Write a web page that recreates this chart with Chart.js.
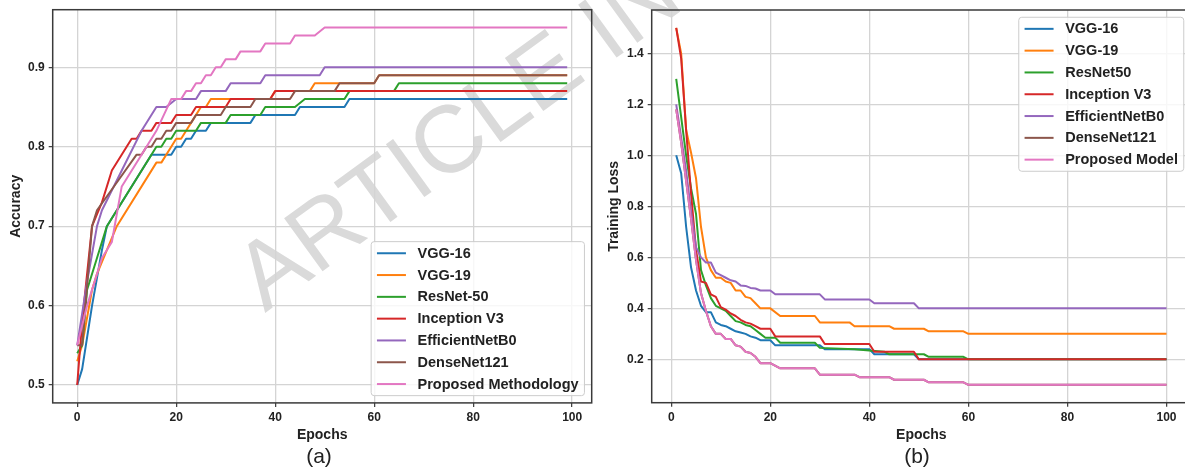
<!DOCTYPE html>
<html>
<head>
<meta charset="utf-8">
<title>Accuracy and training loss</title>
<script src="https://cdn.jsdelivr.net/npm/chart.js@4.4.1/dist/chart.umd.min.js"></script>
<style>
  html, body { margin: 0; padding: 0; background: #fff; overflow: hidden; }
  #wrap { position: relative; width: 1185px; height: 471px; overflow: hidden; }
  canvas { position: absolute; top: 0; z-index: 1; }
  #accChart { left: 0; }
  #lossChart { left: 600px; }
  .caption {
    position: absolute; z-index: 2;
    font: 21px 'Liberation Sans', Arial, sans-serif; color: #222;
    transform: translate(-50%, -50%); white-space: nowrap;
  }
  .stamp {
    position: absolute; z-index: 0; left: 265px; top: 233px;
    font: 95px/95px 'Liberation Sans', Arial, sans-serif; color: #dadada;
    white-space: nowrap; transform-origin: 0 80px; transform: rotate(-36deg);
  }
</style>
</head>
<body>
<div id="wrap">
  <div class="stamp">ARTICLE IN PRESS</div>
  <canvas id="accChart" width="600" height="471"></canvas>
  <canvas id="lossChart" width="600" height="471"></canvas>
  <div class="caption" style="left:319px; top:456px;">(a)</div>
  <div class="caption" style="left:917px; top:456px;">(b)</div>
</div>
<script>
const FONT = "'Liberation Sans', Arial, sans-serif";

// Model names (legend order)
const accLabels = ['VGG-16', 'VGG-19', 'ResNet-50', 'Inception V3', 'EfficientNetB0', 'DenseNet121', 'Proposed Methodology'];
const lossLabels = ['VGG-16', 'VGG-19', 'ResNet50', 'Inception V3', 'EfficientNetB0', 'DenseNet121', 'Proposed Model'];
const lineColors = ['#1f77b4', '#ff7f0e', '#2ca02c', '#d62728', '#9467bd', '#8c564b', '#e377c2'];

const xTicks = [0, 20, 40, 60, 80, 100];
const accTicks = [0.5, 0.6, 0.7, 0.8, 0.9];
const lossTicks = [0.2, 0.4, 0.6, 0.8, 1.0, 1.2, 1.4];

// Validation accuracy, [epoch, value] at the corners of each step
const vgg16Acc = [[0,.50],[1,.52],[3,.60],[5,.67],[6,.70],[15,.79],[19,.79],[20,.80],[21,.80],[22,.81],[23,.81],[24,.82],[26,.82],[27,.83],[35,.83],[36,.84],[44,.84],[45,.85],[54,.85],[55,.86],[99,.86]];
const vgg19Acc = [[0,.53],[1,.55],[3,.62],[4,.64],[8,.70],[16,.78],[17,.78],[19,.80],[20,.81],[21,.81],[22,.82],[23,.83],[25,.85],[26,.85],[27,.86],[39,.86],[40,.87],[47,.87],[48,.88],[60,.88],[61,.89],[99,.89]];
const resnetAcc = [[0,.54],[1,.55],[2,.62],[4,.66],[6,.70],[16,.80],[17,.80],[18,.81],[19,.81],[20,.82],[24,.82],[25,.83],[30,.83],[31,.84],[37,.84],[38,.85],[44,.85],[46,.86],[54,.86],[55,.87],[64,.87],[65,.88],[99,.88]];
const inceptionAcc = [[0,.50],[1,.58],[3,.70],[5,.73],[7,.77],[11,.81],[12,.81],[13,.82],[15,.82],[16,.83],[19,.83],[20,.84],[23,.84],[24,.85],[30,.85],[31,.86],[39,.86],[40,.87],[99,.87]];
const efficientAcc = [[0,.55],[2,.63],[4,.70],[5,.72],[9,.77],[13,.82],[16,.85],[18,.85],[20,.86],[24,.86],[25,.87],[30,.87],[31,.88],[37,.88],[38,.89],[49,.89],[50,.90],[99,.90]];
const densenetAcc = [[0,.55],[1,.55],[3,.70],[4,.72],[8,.755],[12,.79],[13,.79],[14,.80],[15,.80],[16,.81],[17,.81],[18,.82],[19,.82],[20,.83],[23,.83],[24,.84],[29,.84],[30,.85],[35,.85],[36,.86],[43,.86],[44,.87],[52,.87],[53,.88],[60,.88],[61,.89],[99,.89]];
const proposedAcc = [[0,.55],[2,.60],[5,.66],[7,.68],[9,.75],[13,.79],[16,.82],[19,.86],[21,.86],[22,.87],[23,.87],[24,.88],[25,.88],[26,.89],[27,.89],[28,.90],[29,.90],[30,.91],[32,.91],[33,.92],[37,.92],[38,.93],[43,.93],[44,.94],[48,.94],[50,.95],[99,.95]];

// Training loss, [epoch, value]
const vgg16Loss = [[1,1.0],[2,.93],[3,.72],[4,.56],[5,.47],[6,.41],[7,.385],[8,.385],[9,.345],[10,.335],[11,.33],[12,.32],[13,.31],[14,.305],[15,.30],[16,.29],[17,.285],[18,.275],[20,.275],[21,.255],[30,.255],[31,.24],[40,.24],[41,.22],[49,.22],[50,.20],[100,.20]];
const vgg19Loss = [[1,1.5],[2,1.4],[3,1.1],[4,1.01],[5,.91],[6,.72],[7,.60],[8,.55],[9,.52],[10,.52],[11,.505],[12,.50],[13,.47],[14,.47],[15,.445],[16,.44],[17,.42],[18,.40],[20,.40],[22,.37],[29,.37],[30,.345],[36,.345],[37,.33],[44,.33],[45,.32],[51,.32],[52,.31],[59,.31],[60,.30],[100,.30]];
const resnetLoss = [[1,1.3],[2,1.15],[3,1.0],[4,.87],[5,.77],[6,.55],[7,.49],[8,.44],[9,.41],[10,.40],[11,.39],[12,.37],[13,.35],[14,.345],[15,.335],[16,.33],[17,.315],[18,.30],[19,.285],[21,.285],[22,.265],[29,.265],[30,.245],[37,.24],[40,.235],[43,.23],[44,.22],[51,.22],[52,.21],[59,.21],[60,.20],[100,.20]];
const inceptionLoss = [[1,1.5],[2,1.38],[3,1.1],[4,.85],[5,.63],[6,.505],[7,.50],[8,.455],[9,.445],[10,.405],[11,.395],[12,.38],[13,.37],[14,.355],[15,.345],[16,.34],[17,.33],[18,.32],[20,.32],[21,.29],[30,.29],[31,.26],[40,.26],[41,.23],[49,.23],[50,.20],[100,.20]];
const efficientLoss = [[1,1.2],[2,1.07],[3,.94],[4,.78],[5,.64],[6,.60],[7,.58],[8,.58],[9,.54],[10,.53],[11,.52],[12,.51],[13,.505],[14,.49],[15,.488],[16,.48],[17,.478],[18,.47],[20,.47],[21,.455],[30,.455],[31,.435],[40,.435],[41,.42],[49,.42],[50,.40],[100,.40]];
const densenetLoss = [[1,1.18],[2,1.05],[3,.90],[4,.75],[5,.59],[6,.46],[7,.39],[8,.33],[9,.30],[10,.30],[11,.28],[12,.28],[13,.255],[14,.25],[15,.23],[16,.225],[17,.21],[18,.185],[20,.185],[22,.165],[29,.165],[30,.14],[37,.14],[38,.13],[44,.13],[45,.12],[51,.12],[52,.11],[59,.11],[60,.10],[100,.10]];
const proposedLoss = [[1,1.18],[2,1.05],[3,.90],[4,.75],[5,.59],[6,.46],[7,.39],[8,.33],[9,.30],[10,.30],[11,.28],[12,.28],[13,.255],[14,.25],[15,.23],[16,.225],[17,.21],[18,.185],[20,.185],[22,.165],[29,.165],[30,.14],[37,.14],[38,.13],[44,.13],[45,.12],[51,.12],[52,.11],[59,.11],[60,.10],[100,.10]];

const accSeries = [vgg16Acc, vgg19Acc, resnetAcc, inceptionAcc, efficientAcc, densenetAcc, proposedAcc];
const lossSeries = [vgg16Loss, vgg19Loss, resnetLoss, inceptionLoss, efficientLoss, densenetLoss, proposedLoss];

Chart.defaults.font.family = FONT;
Chart.defaults.color = '#222';

function buildDatasets(labels, series) {
  return series.map((pairs, i) => ({
    label: labels[i],
    data: pairs.map(([x, y]) => ({ x, y })),
    borderColor: lineColors[i],
    borderWidth: 2,
    borderJoinStyle: 'round',
    pointRadius: 0,
    tension: 0,
    fill: false,
    // later series are painted on top of earlier ones
    order: series.length - 1 - i
  }));
}

// full box around the plot area plus a matplotlib-style legend
const framePlugin = {
  id: 'framePlugin',
  afterDraw(chart, args, opts) {
    const { ctx, chartArea: a } = chart;
    ctx.save();
    ctx.strokeStyle = '#3a3a3a';
    ctx.lineWidth = 1.5;
    ctx.strokeRect(a.left, a.top, a.right - a.left, a.bottom - a.top);

    const fs = 14.5;
    const pad = 5.8, pitch = 21.8, handle = 29, hpad = 11.6, axpad = 7.25;
    ctx.font = 'bold ' + fs + 'px ' + FONT;
    const items = chart.data.datasets;
    const textW = Math.max(...items.map(d => ctx.measureText(d.label).width));
    const w = pad * 2 + handle + hpad + textW;
    const h = pad * 4 + (items.length - 1) * pitch;
    const x = a.right - axpad - w;
    const y = opts.corner === 'lower' ? a.bottom - axpad - h : a.top + axpad;

    ctx.beginPath();
    ctx.roundRect(x, y, w, h, 3);
    ctx.fillStyle = 'rgba(255,255,255,0.8)';
    ctx.fill();
    ctx.strokeStyle = '#cccccc';
    ctx.lineWidth = 1;
    ctx.stroke();

    ctx.textBaseline = 'middle';
    ctx.textAlign = 'left';
    items.forEach((d, i) => {
      const cy = y + pad * 2 + i * pitch;
      ctx.beginPath();
      ctx.moveTo(x + pad, cy);
      ctx.lineTo(x + pad + handle, cy);
      ctx.strokeStyle = d.borderColor;
      ctx.lineWidth = 2;
      ctx.stroke();
      ctx.fillStyle = '#222';
      ctx.fillText(d.label, x + pad + handle + hpad, cy + 0.5);
    });
    ctx.restore();
  }
};

function buildOptions(cfg) {
  return {
    responsive: false,
    animation: false,
    devicePixelRatio: 1,
    layout: { padding: cfg.padding },
    plugins: {
      legend: { display: false },
      tooltip: { enabled: false },
      framePlugin: { corner: cfg.corner }
    },
    scales: {
      x: {
        type: 'linear',
        min: cfg.xMin,
        max: cfg.xMax,
        afterBuildTicks: scale => { scale.ticks = xTicks.map(v => ({ value: v })); },
        afterFit: scale => {
          scale.height = cfg.xHeight;
          scale.paddingLeft = 0;
          scale.paddingRight = 0;
        },
        ticks: {
          padding: 3.4,
          font: { size: 12, weight: 'bold' },
          color: '#222',
          maxRotation: 0,
          callback: v => String(v)
        },
        grid: { color: '#d4d4d4', lineWidth: 1.3, tickColor: '#3a3a3a', tickLength: 4, tickWidth: 1.2 },
        border: { display: false },
        title: {
          display: true,
          text: 'Epochs',
          font: { size: 14, weight: 'bold' },
          color: '#222',
          padding: { top: 0, bottom: 27.6 }
        }
      },
      y: {
        type: 'linear',
        min: cfg.yMin,
        max: cfg.yMax,
        afterBuildTicks: scale => { scale.ticks = cfg.yTicks.map(v => ({ value: v })); },
        afterFit: scale => {
          scale.width = cfg.yWidth;
          scale.paddingTop = 0;
          scale.paddingBottom = 0;
        },
        ticks: {
          padding: 4,
          font: { size: 12, weight: 'bold' },
          color: '#222',
          callback: v => v.toFixed(1)
        },
        grid: { color: '#d4d4d4', lineWidth: 1.3, tickColor: '#3a3a3a', tickLength: 4, tickWidth: 1.2 },
        border: { display: false },
        title: {
          display: true,
          text: cfg.yTitle,
          font: { size: 14, weight: 'bold' },
          color: '#222',
          padding: { top: cfg.yTitlePad, bottom: 0 }
        }
      }
    }
  };
}

new Chart(document.getElementById('accChart'), {
  type: 'line',
  data: { datasets: buildDatasets(accLabels, accSeries) },
  options: buildOptions({
    padding: { left: 0, top: 9.7, right: 8.3, bottom: 0 },
    xMin: -4.95, xMax: 103.95,
    yMin: 0.4775, yMax: 0.9725,
    yTicks: accTicks,
    xHeight: 68.1, yWidth: 52.7,
    yTitle: 'Accuracy', yTitlePad: 7.6,
    corner: 'lower'
  }),
  plugins: [framePlugin]
});

new Chart(document.getElementById('lossChart'), {
  type: 'line',
  data: { datasets: buildDatasets(lossLabels, lossSeries) },
  options: buildOptions({
    padding: { left: 0, top: 10, right: 9, bottom: 0 },
    xMin: -3.95, xMax: 104.95,
    yMin: 0.03, yMax: 1.57,
    yTicks: lossTicks,
    xHeight: 68.3, yWidth: 51.7,
    yTitle: 'Training Loss', yTitlePad: 5.6,
    corner: 'upper'
  }),
  plugins: [framePlugin]
});
</script>
</body>
</html>
